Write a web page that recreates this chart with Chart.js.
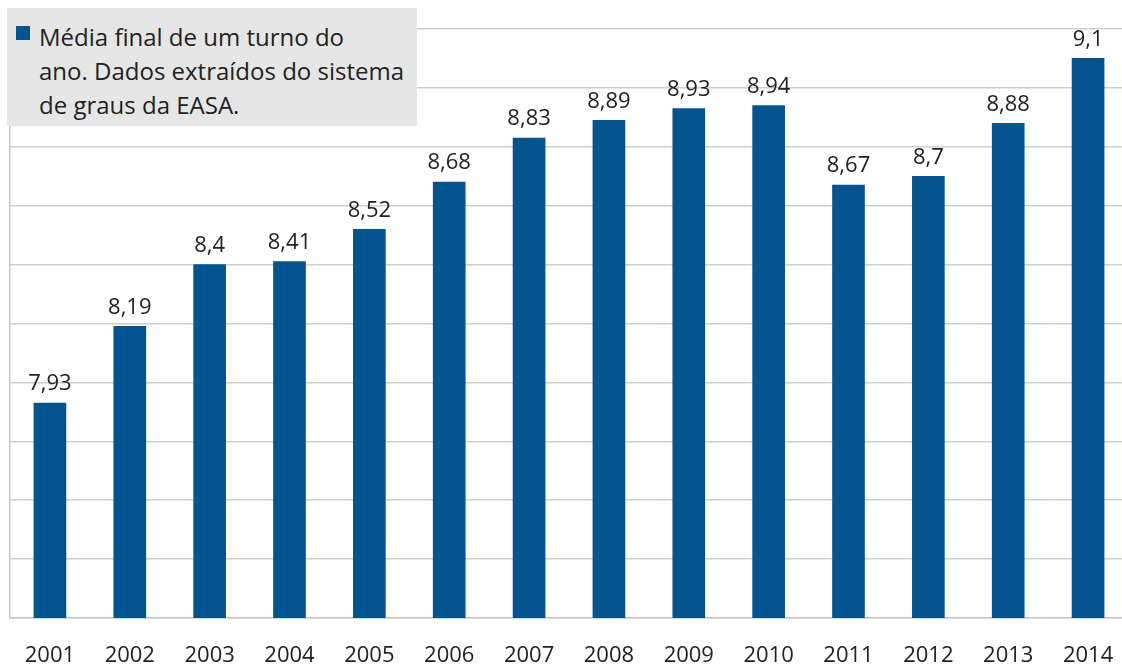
<!DOCTYPE html>
<html>
<head>
<meta charset="utf-8">
<script src="https://cdn.jsdelivr.net/npm/chart.js@4/dist/chart.umd.min.js"></script>
<style>
  body { margin: 0; overflow: hidden; background: #fff; }
  #wrap { position: relative; width: 1122px; height: 668px; overflow: hidden; }
  #legend {
    position: absolute; left: 7px; top: 8px; width: 410px; height: 118px;
    background: #e6e6e6; box-sizing: border-box;
    padding: 12px 0 0 32px; white-space: nowrap;
    font-family: "Open Sans", sans-serif; font-size: 24px; line-height: 34px; color: #222;
  }
  #legend .sq {
    position: absolute; left: 9px; top: 18px; width: 14px; height: 14px; background: #04558f;
  }
</style>
</head>
<body>
<div id="wrap">
  <canvas id="chart" width="1128" height="668"></canvas>
  <div id="legend"><span class="sq"></span><span id="legendText"></span></div>
</div>
<script>
var years = ["2001","2002","2003","2004","2005","2006","2007","2008","2009","2010","2011","2012","2013","2014"];
var medias = [7.93, 8.19, 8.4, 8.41, 8.52, 8.68, 8.83, 8.89, 8.93, 8.94, 8.67, 8.7, 8.88, 9.1];
var legendLines = ["Média final de um turno do", "ano. Dados extraídos do sistema", "de graus da EASA."];

var lt = document.getElementById("legendText");
legendLines.forEach(function(l, i) {
  if (i > 0) lt.appendChild(document.createElement("br"));
  lt.appendChild(document.createTextNode(l));
});

// rotulos em cima das barras, com virgula decimal
var rotulos = {
  id: "rotulos",
  afterDatasetsDraw: function(chart) {
    var ctx = chart.ctx;
    var meta = chart.getDatasetMeta(0);
    ctx.save();
    ctx.font = '22px "Open Sans", sans-serif';
    ctx.fillStyle = "#222";
    ctx.textAlign = "center";
    ctx.textBaseline = "bottom";
    meta.data.forEach(function(bar, i) {
      var txt = String(medias[i]).replace(".", ",");
      ctx.fillText(txt, bar.x, bar.y - 8);
    });
    ctx.restore();
  }
};

var chart = new Chart(document.getElementById("chart"), {
  type: "bar",
  data: {
    labels: years,
    datasets: [{
      label: legendLines.join(" "),
      data: medias,
      backgroundColor: "#04558f",
      barThickness: 32
    }]
  },
  options: {
    responsive: false,
    animation: false,
    layout: { padding: { left: 10, top: 29, right: 0, bottom: 0 } },
    plugins: {
      legend: { display: false },
      tooltip: { enabled: false }
    },
    scales: {
      x: {
        grid: { display: false, drawTicks: false },
        border: { display: true, color: "#c8c8c8", width: 1.5 },
        ticks: {
          padding: 27,
          maxRotation: 0,
          color: "#222",
          font: { family: "Open Sans", size: 22, lineHeight: 1 }
        },
        afterFit: function(scale) {
          scale.height = 50;
          scale.paddingLeft = 0;
          scale.paddingRight = 0;
        }
      },
      y: {
        min: 7.2,
        max: 9.2,
        ticks: { display: false, stepSize: 0.2 },
        grid: { color: "#cfcfcf", lineWidth: 1.5, drawTicks: false },
        border: { display: true, color: "#c8c8c8", width: 1.5 }
      }
    }
  },
  plugins: [rotulos]
});
</script>
</body>
</html>
